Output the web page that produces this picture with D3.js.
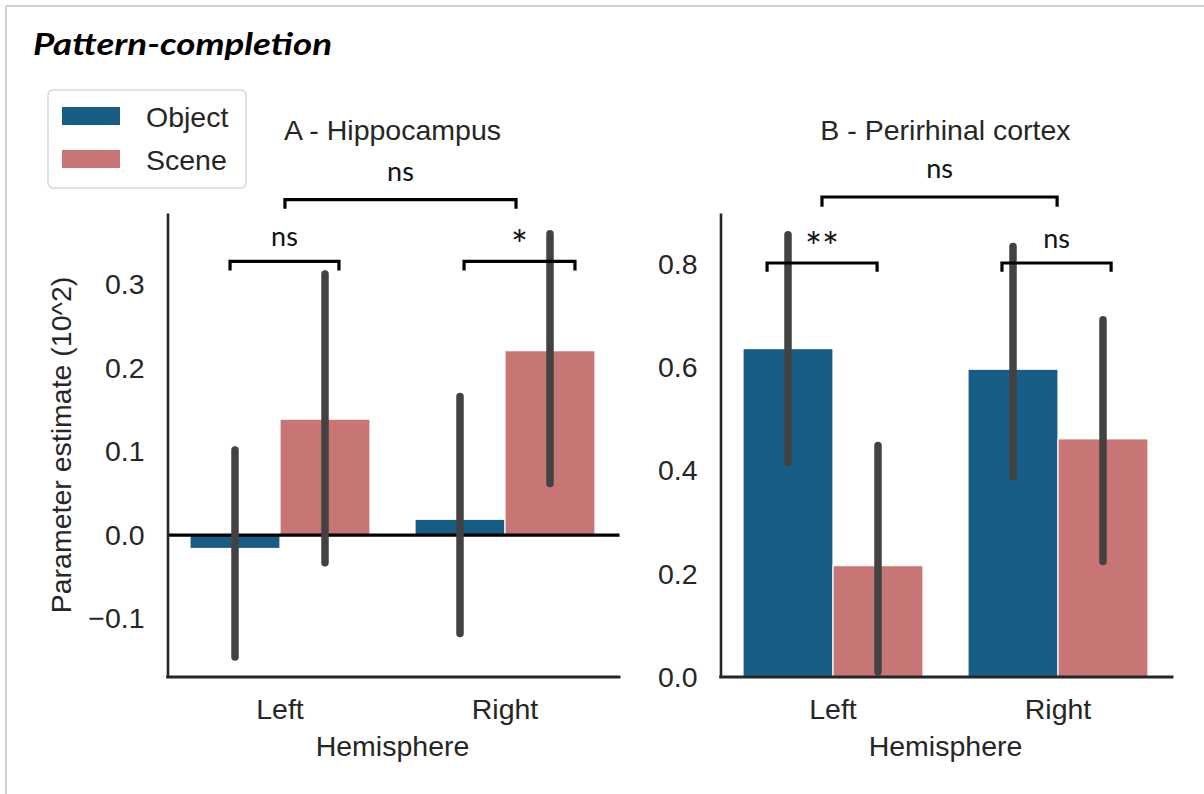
<!DOCTYPE html>
<html>
<head>
<meta charset="utf-8">
<script src="https://cdn.jsdelivr.net/npm/d3@7"></script>
<style>
  html, body { margin: 0; padding: 0; background: #fff; }
  svg { display: block; }
</style>
</head>
<body>
<svg id="chart" width="1204" height="794"></svg>
<script>
// ---- data ----
const hemispheres = ["Left", "Right"];
const conditions = ["Object", "Scene"];

const hippoObject = [-0.016, 0.019];
const hippoScene = [0.139, 0.221];
const hippoObjectCI = [[-0.146, 0.102], [-0.118, 0.166]];
const hippoSceneCI = [[-0.033, 0.313], [0.062, 0.361]];

const prcObject = [0.637, 0.597];
const prcScene = [0.216, 0.462];
const prcObjectCI = [[0.416, 0.858], [0.389, 0.835]];
const prcSceneCI = [[0.010, 0.449], [0.224, 0.693]];

const hippoTicks = [-0.1, 0.0, 0.1, 0.2, 0.3];
const prcTicks = [0.0, 0.2, 0.4, 0.6, 0.8];

// significance brackets: x1/x2 on the category axis (0 = Left, 1 = Right),
// y = bar height, tip = tick end, label text, level (outer / inner)
const hippoSig = [
  { x1: 0.022, x2: 1.049, y: 0.402, tip: 0.391, label: "ns", level: "outer" },
  { x1: -0.222, x2: 0.262, y: 0.328, tip: 0.317, label: "ns", level: "inner" },
  { x1: 0.818, x2: 1.311, y: 0.328, tip: 0.317, label: "*", level: "inner" }
];
const prcSig = [
  { x1: -0.049, x2: 0.996, y: 0.931, tip: 0.912, label: "ns", level: "outer" },
  { x1: -0.293, x2: 0.196, y: 0.803, tip: 0.786, label: "**", level: "inner" },
  { x1: 0.751, x2: 1.236, y: 0.803, tip: 0.786, label: "ns", level: "inner" }
];

// ---- styling ----
const colors = { Object: "#175d85", Scene: "#c87575" };
const axisFont = "'Liberation Sans', Arial, Helvetica, sans-serif";
const annoFont = "Lato, 'Open Sans', sans-serif";
const textColor = "#262626";

const svg = d3.select("#chart");

// outer frame (top and left edges)
svg.append("line").attr("x1", 6).attr("y1", 6).attr("x2", 1204).attr("y2", 6)
  .attr("stroke", "#cfcfcf").attr("stroke-width", 2);
svg.append("line").attr("x1", 6).attr("y1", 6).attr("x2", 6).attr("y2", 794)
  .attr("stroke", "#cfcfcf").attr("stroke-width", 2);

// figure title
svg.append("text")
  .attr("x", 33).attr("y", 55)
  .attr("font-family", annoFont)
  .attr("font-weight", 700).attr("font-style", "italic")
  .attr("font-size", 31)
  .attr("textLength", 299).attr("lengthAdjust", "spacingAndGlyphs")
  .attr("fill", "#000")
  .text("Pattern-completion");

function drawPanel(opt) {
  const { left, right, top, bottom, yDomain, ticks, obj, scn, objCI, scnCI, title, sig, zeroLine, yLabel } = opt;
  const g = svg.append("g");

  const x = d3.scaleBand().domain(hemispheres).range([left, right]).paddingInner(0).paddingOuter(0);
  const xc = d3.scaleLinear().domain([-0.5, 1.5]).range([left, right]);
  const inner = d3.scaleBand().domain(conditions).range([0.1 * x.bandwidth(), 0.9 * x.bandwidth()]);
  const y = d3.scaleLinear().domain(yDomain).range([bottom, top]);

  const rows = [];
  hemispheres.forEach((h, i) => {
    rows.push({ h, c: "Object", v: obj[i], ci: objCI[i] });
    rows.push({ h, c: "Scene", v: scn[i], ci: scnCI[i] });
  });

  // bars
  g.selectAll("rect.bar").data(rows).join("rect")
    .attr("class", "bar")
    .attr("x", d => x(d.h) + inner(d.c))
    .attr("width", inner.bandwidth())
    .attr("y", d => y(Math.max(0, d.v)))
    .attr("height", d => Math.abs(y(d.v) - y(0)))
    .attr("fill", d => colors[d.c])
    .attr("stroke", "#fff").attr("stroke-width", 1.2);

  // zero reference line
  if (zeroLine) {
    g.append("line")
      .attr("x1", left).attr("x2", right + 2)
      .attr("y1", y(0)).attr("y2", y(0))
      .attr("stroke", "#000").attr("stroke-width", 3.2);
  }

  // confidence intervals
  g.selectAll("line.err").data(rows).join("line")
    .attr("class", "err")
    .attr("x1", d => x(d.h) + inner(d.c) + inner.bandwidth() / 2)
    .attr("x2", d => x(d.h) + inner(d.c) + inner.bandwidth() / 2)
    .attr("y1", d => y(d.ci[0]))
    .attr("y2", d => y(d.ci[1]))
    .attr("stroke", "#424242").attr("stroke-width", 7.5)
    .attr("stroke-linecap", "round");

  // axes
  const yAxis = g.append("g")
    .attr("transform", `translate(${left},0)`)
    .call(d3.axisLeft(y).tickValues(ticks).tickFormat(d3.format(".1f")).tickSize(0).tickSizeOuter(0).tickPadding(23));
  yAxis.select(".domain").attr("stroke", "#262626").attr("stroke-width", 2.6);
  yAxis.selectAll("text").attr("font-family", axisFont).attr("font-size", 28.5).attr("fill", textColor);

  const xAxis = g.append("g")
    .attr("transform", `translate(0,${bottom})`)
    .call(d3.axisBottom(x).tickSize(0).tickSizeOuter(0).tickPadding(22));
  xAxis.select(".domain").attr("stroke", "#262626").attr("stroke-width", 2.8)
    .attr("d", `M${left - 1.3},0H${right + 3}`);
  xAxis.selectAll("text").attr("font-family", axisFont).attr("font-size", 28.5).attr("fill", textColor)
    .attr("dy", "0.71em");

  // axis title and panel title
  g.append("text")
    .attr("x", (left + right) / 2).attr("y", 756)
    .attr("text-anchor", "middle")
    .attr("font-family", axisFont).attr("font-size", 28.5).attr("fill", textColor)
    .text("Hemisphere");
  g.append("text")
    .attr("x", (left + right) / 2).attr("y", 140)
    .attr("text-anchor", "middle")
    .attr("font-family", axisFont).attr("font-size", 28.5).attr("fill", textColor)
    .text(title);
  if (yLabel) {
    g.append("text")
      .attr("transform", `translate(71,${(top + bottom) / 2}) rotate(-90)`)
      .attr("text-anchor", "middle")
      .attr("font-family", axisFont).attr("font-size", 28.5).attr("fill", textColor)
      .text(yLabel);
  }

  // significance brackets
  sig.forEach(s => {
    const x1 = xc(s.x1), x2 = xc(s.x2), yb = y(s.y), yt = y(s.tip);
    g.append("path")
      .attr("d", `M${x1},${yt}V${yb}H${x2}V${yt}`)
      .attr("fill", "none").attr("stroke", "#000").attr("stroke-width", 3.2)
      .attr("stroke-linejoin", "miter");
    const isStar = s.label.indexOf("*") >= 0;
    const off = isStar ? 1 : (s.level === "outer" ? 19 : 15);
    g.append("text")
      .attr("x", (x1 + x2) / 2).attr("y", yb - off)
      .attr("text-anchor", "middle")
      .attr("font-family", annoFont).attr("font-size", isStar ? 40 : 27).attr("fill", "#111")
      .text(s.label);
  });
}

drawPanel({
  left: 167.5, right: 617.5, top: 213, bottom: 677,
  yDomain: [-0.17, 0.386], ticks: hippoTicks,
  obj: hippoObject, scn: hippoScene, objCI: hippoObjectCI, scnCI: hippoSceneCI,
  title: "A - Hippocampus", sig: hippoSig, zeroLine: true,
  yLabel: "Parameter estimate (10^2)"
});

drawPanel({
  left: 720.5, right: 1170.5, top: 213, bottom: 677,
  yDomain: [0, 0.9], ticks: prcTicks,
  obj: prcObject, scn: prcScene, objCI: prcObjectCI, scnCI: prcSceneCI,
  title: "B - Perirhinal cortex", sig: prcSig, zeroLine: false
});

// legend
const legend = svg.append("g");
legend.append("rect")
  .attr("x", 48).attr("y", 90).attr("width", 198).attr("height", 98)
  .attr("rx", 5).attr("fill", "#fff")
  .attr("stroke", "#d9d9d9").attr("stroke-width", 1.6);
conditions.forEach((c, i) => {
  legend.append("rect")
    .attr("x", 62).attr("y", 107 + i * 43).attr("width", 58).attr("height", 18)
    .attr("fill", colors[c]);
  legend.append("text")
    .attr("x", 146).attr("y", 127 + i * 43)
    .attr("font-family", axisFont).attr("font-size", 28.5).attr("fill", textColor)
    .text(c);
});
</script>
</body>
</html>
